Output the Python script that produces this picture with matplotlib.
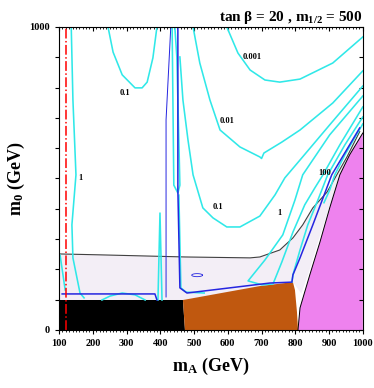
import numpy as np
import matplotlib
matplotlib.use('Agg')
import matplotlib.pyplot as plt
from matplotlib.ticker import MultipleLocator

plt.rcParams['font.family'] = 'Liberation Serif'
plt.rcParams['font.weight'] = 'bold'
plt.rcParams['mathtext.fontset'] = 'custom'
plt.rcParams['mathtext.rm'] = 'Liberation Serif:bold'
plt.rcParams['mathtext.it'] = 'Liberation Serif:bold'
plt.rcParams['mathtext.bf'] = 'Liberation Serif:bold'

# excluded regions (mA, m0)
blk_x = [100, 467, 473, 100]
blk_y = [99, 99, 0, 0]
brown_x = [473, 467, 695, 793, 799, 805, 808]
brown_y = [0, 99, 145, 158, 132, 59, 0]
pink_x = [808, 814, 843, 873, 902, 932, 961, 1000, 1000]
pink_y = [0, 73, 182, 290, 403, 512, 578, 650, 0]
# top edge of the light region
bnd_x = [100, 221, 473, 666, 695, 754, 793, 822, 852, 894, 923, 953, 991]
bnd_y = [251, 248, 241, 238, 241, 264, 304, 347, 403, 455, 512, 571, 655]
lav_x = bnd_x + [905, 870, 840, 818, 793, 467, 100]
lav_y = bnd_y + [420, 300, 190, 120, 158, 99, 99]

# cyan contours
c0001_x = [597, 630, 666, 710, 754, 814, 911, 1000]
c0001_y = [1000, 914, 858, 825, 818, 828, 881, 967]
c001_x = [497, 517, 547, 577, 636, 695, 700, 707, 760, 814, 911, 1000]
c001_y = [1000, 881, 759, 660, 604, 571, 566, 584, 620, 660, 749, 855]
c01l_x = [245, 260, 287, 325, 346, 361, 378, 390]
c01l_y = [1000, 917, 842, 799, 799, 818, 898, 1000]
c01r_x = [458, 467, 482, 497, 526, 556, 597, 636, 695, 740, 769, 814, 902, 1000]
c01r_y = [901, 759, 627, 512, 403, 370, 340, 340, 376, 446, 502, 561, 677, 805]
c1l_x = [136, 141, 150, 138, 141, 162, 174]
c1l_y = [1000, 759, 512, 347, 238, 122, 106]
c1r_x = [1000, 902, 822, 799, 763, 710, 660, 701, 734, 760, 793, 828, 858, 882, 932, 1000]
c1r_y = [772, 644, 512, 429, 314, 231, 162, 149, 152, 224, 323, 413, 469, 512, 611, 736]
c10_x = [1000, 947, 896, 867, 837, 814, 793, 790]
c10_y = [703, 611, 512, 429, 347, 264, 182, 158]
c100_x = [1000, 947, 917, 902, 885]
c100_y = [680, 578, 512, 462, 420]
cedge_x = [103, 118]
cedge_y = [247, 132]
carc_x = [227, 251, 287, 325, 355]
carc_y = [99, 112, 122, 116, 99]
cw_x = [435, 440, 452, 458, 449, 443]
cw_y = [1000, 478, 452, 478, 900, 1000]
cf_x = [455, 461, 476, 530]
cf_y = [445, 139, 125, 122]
cn_x = [393, 399, 405]
cn_y = [99, 386, 99]

# blue contours
b1_x = [109, 384, 390]
b1_y = [119, 119, 99]
b2_x = [431, 417, 417]
b2_y = [1000, 693, 109]
b3_x = [452, 452, 458, 479, 725, 790, 793, 814, 852, 908, 991]
b3_y = [1000, 462, 139, 122, 155, 158, 182, 238, 347, 512, 667]

fig = plt.figure(figsize=(3.74, 3.88), dpi=100)
ax = fig.add_axes([0.158, 0.1495, 0.812, 0.781])

ax.fill(lav_x, lav_y, color='#F3EEF6', lw=0)
ax.fill(blk_x, blk_y, color='black', lw=0)
ax.fill(brown_x, brown_y, color='#C0580F', lw=0)
ax.fill(pink_x, pink_y, color='#EE82EE', lw=0)
ax.plot(pink_x[:-1], pink_y[:-1], color='black', lw=0.7)
ax.plot(bnd_x, bnd_y, color='#404040', lw=0.8)

cy = '#30E8E8'
for xs, ys in [(c0001_x, c0001_y), (c001_x, c001_y), (c01l_x, c01l_y),
               (c01r_x, c01r_y), (c1l_x, c1l_y), (c1r_x, c1r_y),
               (c10_x, c10_y), (c100_x, c100_y), (cedge_x, cedge_y),
               (carc_x, carc_y), (cw_x, cw_y), (cf_x, cf_y), (cn_x, cn_y)]:
    ax.plot(xs, ys, color=cy, lw=1.15, solid_joinstyle='round')

bl = '#2525E0'
ax.plot(b1_x, b1_y, color=bl, lw=1.1)
ax.plot(b2_x, b2_y, color=bl, lw=0.7)
ax.plot(b3_x, b3_y, color=bl, lw=1.1)
t = np.linspace(0, 2 * np.pi, 40)
ax.plot(509 + 16 * np.cos(t), 181 + 5 * np.sin(t), color=bl, lw=0.6)

ax.axvline(120, color='red', ls='-.', lw=1.1)

lab = dict(fontsize=6, fontweight='bold', ha='center', va='center')
ax.text(671, 901, '0.001', **lab)
ax.text(597, 690, '0.01', **lab)
ax.text(295, 782, '0.1', **lab)
ax.text(571, 406, '0.1', **lab)
ax.text(162, 502, '1', **lab)
ax.text(754, 386, '1', **lab)
ax.text(888, 518, '100', **lab)

ax.set_xlim(100, 1000)
ax.set_ylim(0, 1000)
ax.set_xticks(np.arange(100, 1001, 100))
ax.xaxis.set_minor_locator(MultipleLocator(10))
ax.set_yticks(np.arange(0, 1001, 100))
ax.set_yticklabels(['0'] + [''] * 9 + ['1000'])
ax.tick_params(axis='both', labelsize=7.5, length=3, width=0.8, direction='out')
ax.tick_params(which='minor', length=1.5, width=0.6, direction='out')
ax.tick_params(top=True, right=True, which='both')
for t_ in ax.xaxis.get_major_ticks() + ax.xaxis.get_minor_ticks():
    t_.tick2line.set_marker(3)
for t_ in ax.yaxis.get_major_ticks():
    t_.tick2line.set_marker(0)
for lbl in ax.get_xticklabels() + ax.get_yticklabels():
    lbl.set_fontweight('bold')

ax.set_xlabel('m$_A$ (GeV)', fontsize=13, fontweight='bold', labelpad=6)
ax.set_ylabel('m$_0$ (GeV)', fontsize=13, fontweight='bold', labelpad=2)
ax.set_title(r'tan β = 20 , m$_{1/2}$ = 500', fontsize=11, fontweight='bold',
             loc='right', pad=4)

fig.savefig('out.png', dpi=100)
